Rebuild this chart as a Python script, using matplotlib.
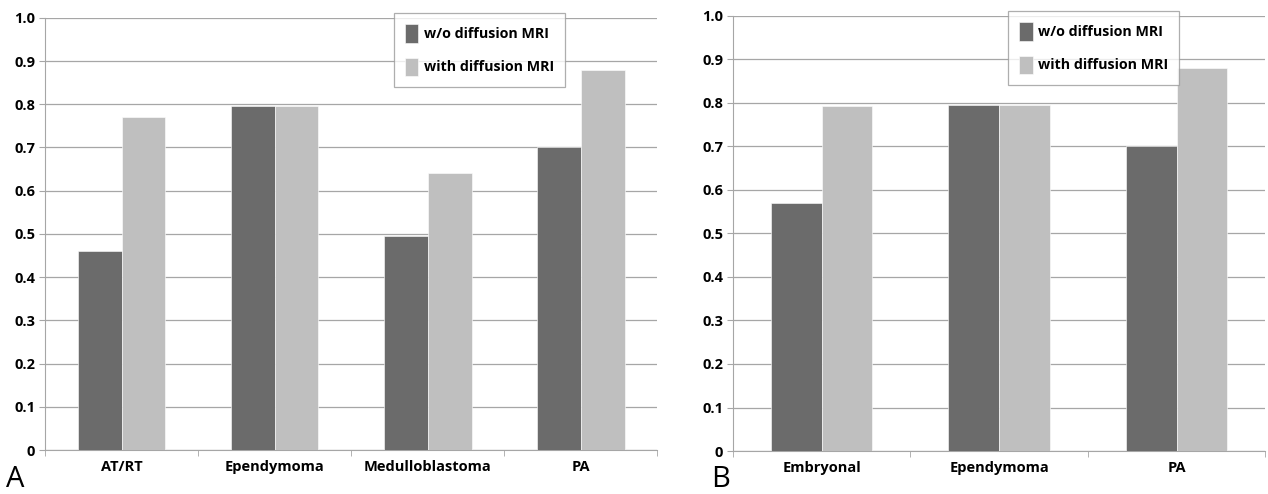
import numpy as np
import matplotlib
matplotlib.use("Agg")
import matplotlib.pyplot as plt
from matplotlib.ticker import FixedLocator

# ── Data ──────────────────────────────────────────────────────────────────────
cats_a = ["AT/RT", "Ependymoma", "Medulloblastoma", "PA"]
without_a = [0.46, 0.795, 0.495, 0.70]
with_a = [0.77, 0.795, 0.64, 0.88]

cats_b = ["Embryonal", "Ependymoma", "PA"]
without_b = [0.57, 0.795, 0.70]
with_b = [0.793, 0.795, 0.88]

y_ticks = [0.0, 0.1, 0.2, 0.3, 0.4, 0.5, 0.6, 0.7, 0.8, 0.9, 1.0]
y_labels = ["0", "0.1", "0.2", "0.3", "0.4", "0.5", "0.6", "0.7", "0.8", "0.9", "1.0"]

series_labels = ["w/o diffusion MRI", "with diffusion MRI"]
DARK, LIGHT, GRID = "#6b6b6b", "#bfbfbf", "#a6a6a6"

plt.rcParams.update({"font.family": ["Open Sans", "DejaVu Sans"]})

fig = plt.figure(figsize=(12.68, 4.94), dpi=100)
ax_a = fig.add_axes([0.0355, 0.089, 0.483, 0.875])
ax_b = fig.add_axes([0.578, 0.087, 0.420, 0.881])


def draw_panel(ax, cats, s1, s2, legend_anchor):
    x = np.arange(len(cats))
    w = 1 / 3.5  # Excel-style 150% gap width
    ax.bar(x - w / 2, s1, width=w, color=DARK, edgecolor="white", linewidth=0.4,
           label=series_labels[0], zorder=3)
    ax.bar(x + w / 2, s2, width=w, color=LIGHT, edgecolor="white", linewidth=0.4,
           label=series_labels[1], zorder=3)
    ax.set_xlim(-0.5, len(cats) - 0.5)
    ax.set_ylim(0, 1.0)
    ax.set_yticks(y_ticks)
    ax.set_yticklabels(y_labels, fontweight="bold", fontsize=10.5)
    ax.set_xticks(x)
    ax.set_xticklabels(cats, fontweight="bold", fontsize=10.5)
    ax.xaxis.set_minor_locator(FixedLocator(np.arange(-0.5, len(cats), 1.0)))
    ax.tick_params(axis="x", which="major", length=0, pad=7)
    ax.tick_params(axis="x", which="minor", length=4, color=GRID, direction="out")
    ax.tick_params(axis="y", length=4, color=GRID, pad=3)
    ax.grid(axis="y", color=GRID, linewidth=0.9, zorder=0)
    for s in ["top", "right"]:
        ax.spines[s].set_visible(False)
    for s in ["left", "bottom"]:
        ax.spines[s].set_color(GRID)
    leg = ax.legend(loc="upper left", bbox_to_anchor=legend_anchor, frameon=True,
                    fancybox=False, edgecolor="#9a9a9a", handlelength=0.95,
                    handleheight=1.6, handletextpad=0.4, labelspacing=1.05,
                    borderpad=0.75, borderaxespad=0,
                    prop={"size": 10.3, "weight": "bold"})
    leg.get_frame().set_linewidth(0.9)


draw_panel(ax_a, cats_a, without_a, with_a, (0.57, 1.01))
draw_panel(ax_b, cats_b, without_b, with_b, (0.517, 1.01))

fig.text(0.005, 0.015, "A", fontsize=21)
fig.text(0.561, 0.015, "B", fontsize=21)

fig.savefig("out.png", dpi=100, facecolor="white")
